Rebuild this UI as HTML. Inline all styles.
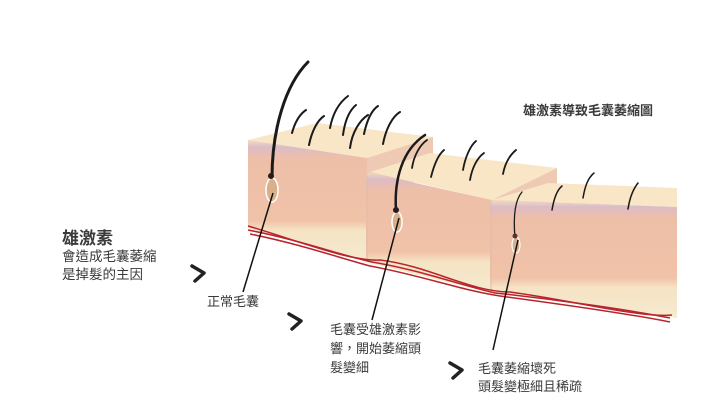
<!DOCTYPE html>
<html><head><meta charset="utf-8"><style>
html,body{margin:0;padding:0;background:#fff;}
svg{display:block}
text{font-family:"Liberation Sans","Noto Sans CJK TC",sans-serif;fill:#3a3a3a}
</style></head><body>
<svg width="718" height="407" viewBox="0 0 718 407" xmlns="http://www.w3.org/2000/svg">
<defs>
<linearGradient id="f1" x1="0" y1="0" x2="0" y2="1">
<stop offset="0" stop-color="#f3dcc0"/><stop offset="0.06" stop-color="#dcbcc6"/><stop offset="0.15" stop-color="#eebfa8"/><stop offset="0.66" stop-color="#f0c2a8"/><stop offset="0.74" stop-color="#f5e3c4"/><stop offset="1" stop-color="#f6ead0"/>
</linearGradient>
</defs>

<!-- Block 1 -->
<polygon points="248,140 317,123 433,137 367,158" fill="#f8e6c6"/>
<polygon points="367,158 433,137 433,175 367,200" fill="#eecab5"/>
<polygon points="248,140 367,158 367,262 248,228" fill="url(#f1)"/>
<!-- Block 2 -->
<polygon points="370,172 430,153 557,168 492,200" fill="#f8e6c6"/>
<polygon points="492,200 557,168 557,200 492,235" fill="#eecab5"/>
<polygon points="366,172 492,200 492,293 366,262" fill="url(#f1)"/>
<!-- Block 3 -->
<polygon points="492,200 548,183 677,188 677,207" fill="#f8e6c6"/>
<polygon points="490,200 677,207 677,318 490,292" fill="url(#f1)"/>
<line x1="367" y1="172" x2="367" y2="262" stroke="#e3bba8" stroke-width="1"/>
<line x1="491" y1="200" x2="491" y2="293" stroke="#e3bba8" stroke-width="1"/>

<!-- vessels -->
<g fill="none" stroke="#b8242c" stroke-width="1.5">
<path d="M248,230 C300,240 340,255 372,262 C420,270 460,285 495,293 C560,300 630,310 670,318"/>
<path d="M250,234 C300,244 340,258 370,266 C420,275 460,290 500,296 C560,304 630,314 670,322"/>
<path d="M248,226 C290,238 350,262 380,260 C430,266 470,292 510,292 C570,300 640,318 672,315"/>
</g>

<!-- hairs block 1 -->
<g fill="none" stroke="#1a1a1a" stroke-linecap="round">
<path d="M272,178 C272,130 285,85 308,62" stroke-width="3"/>
<path d="M292,133 C295,122 300,114 306,110" stroke-width="2"/>
<path d="M309,145 C312,130 318,120 324,116" stroke-width="2"/>
<path d="M330,128 C333,112 340,102 348,96" stroke-width="2"/>
<path d="M343,135 C345,120 350,110 356,105" stroke-width="2"/>
<path d="M350,148 C352,132 360,120 368,115" stroke-width="2"/>
<path d="M364,134 C367,120 372,110 378,106" stroke-width="2"/>
<path d="M383,144 C386,128 393,116 400,112" stroke-width="2"/>
<!-- block 2 -->
<path d="M396,210 C394,180 402,150 425,135" stroke-width="2.5"/>
<path d="M412,168 C414,155 420,145 427,140" stroke-width="1.8"/>
<path d="M431,177 C434,165 438,155 444,150" stroke-width="1.8"/>
<path d="M463,170 C465,158 470,146 476,141" stroke-width="1.8"/>
<path d="M470,180 C472,168 477,158 484,153" stroke-width="1.8"/>
<path d="M503,174 C505,163 510,155 516,150" stroke-width="1.8"/>
<!-- block 3 -->
<path d="M515,238 C513,215 515,200 522,192" stroke-width="1.3"/>
<path d="M552,210 C554,198 557,190 562,186" stroke-width="1.5"/>
<path d="M583,198 C585,186 588,178 594,173" stroke-width="1.5"/>
<path d="M628,209 C630,196 634,188 638,183" stroke-width="1.5"/>
</g>
<!-- follicles -->
<ellipse cx="272" cy="190" rx="6" ry="12" fill="#d9b08a" stroke="#fff" stroke-width="1.5"/>
<circle cx="271" cy="176" r="3" fill="#2a1a1a"/>
<ellipse cx="397" cy="222" rx="5" ry="10" fill="#d9b08a" stroke="#fff" stroke-width="1.5"/>
<circle cx="396" cy="210" r="3" fill="#2a1a1a"/>
<ellipse cx="516" cy="245" rx="4" ry="8" fill="#d9b08a" stroke="#fff" stroke-width="1.2"/>
<circle cx="515" cy="236" r="2.5" fill="#5a3030"/>

<!-- pointer lines -->
<g stroke="#111" stroke-width="1.5">
<line x1="243" y1="292" x2="273" y2="193"/>
<line x1="372" y1="320" x2="399" y2="218"/>
<line x1="493" y1="350" x2="518" y2="240"/>
</g>

<!-- text -->
<text x="523" y="115" font-size="13" font-weight="bold" fill="#333">雄激素導致毛囊萎縮圖</text>
<text x="62" y="244" font-size="17" font-weight="bold" fill="#222">雄激素</text>
<text x="62" y="261" font-size="13.5">會造成毛囊萎縮</text>
<text x="62" y="279" font-size="13.5">是掉髮的主因</text>
<text x="207" y="306" font-size="13">正常毛囊</text>
<text x="330" y="334" font-size="13">毛囊受雄激素影</text>
<text x="330" y="353" font-size="13">響，開始萎縮頭</text>
<text x="330" y="372" font-size="13">髮變細</text>
<text x="478" y="373" font-size="13">毛囊萎縮壞死</text>
<text x="478" y="391" font-size="13">頭髮變極細且稀疏</text>

<!-- arrows -->
<g fill="none" stroke="#222" stroke-width="3.5" stroke-linecap="round" stroke-linejoin="round">
<polyline points="192,266 204,273 195,281"/>
<polyline points="289,314 301,321 292,329"/>
<polyline points="450,363 462,370 453,378"/>
</g>
</svg>
</body></html>
